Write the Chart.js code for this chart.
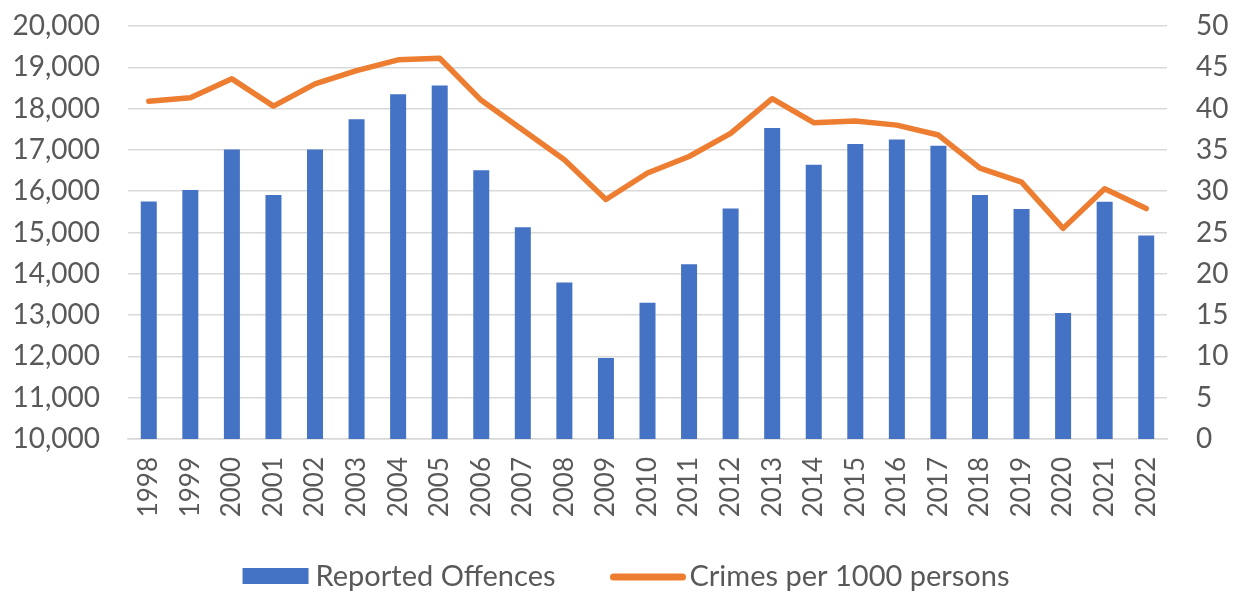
<!DOCTYPE html>
<html>
<head>
<meta charset="utf-8">
<script src="https://cdn.jsdelivr.net/npm/chart.js@4.4.1/dist/chart.umd.min.js"></script>
<style>
  html, body { margin: 0; padding: 0; background: #ffffff; }
  #wrap { width: 1239px; height: 592px; position: relative; }
</style>
</head>
<body>
<div id="wrap"><canvas id="c" width="1239" height="592"></canvas></div>
<script>
const years = ['1998','1999','2000','2001','2002','2003','2004','2005','2006','2007','2008','2009','2010','2011','2012','2013','2014','2015','2016','2017','2018','2019','2020','2021','2022'];
const reportedOffences = [15750, 16030, 17010, 15910, 17010, 17740, 18350, 18560, 16510, 15130, 13790, 11960, 13300, 14230, 15580, 17530, 16640, 17140, 17250, 17100, 15910, 15570, 13050, 15745, 14930];
const crimesPer1000 = [40.9, 41.3, 43.6, 40.3, 43.0, 44.6, 45.9, 46.1, 41.0, 37.4, 33.8, 29.0, 32.2, 34.2, 37.0, 41.2, 38.3, 38.5, 38.0, 36.8, 32.8, 31.1, 25.5, 30.3, 27.9];
const leftTicks = [10000, 11000, 12000, 13000, 14000, 15000, 16000, 17000, 18000, 19000, 20000];
const rightTicks = [0, 5, 10, 15, 20, 25, 30, 35, 40, 45, 50];

const FONT = 'Lato, "Open Sans", sans-serif';
const TEXT = '#595959';
const GRID = '#d9d9d9';
const BAR_COLOR = '#4472C4';
const LINE_COLOR = '#ED7D31';

// Custom bottom legend (box/line + text), drawn with the chart's canvas
const bottomLegend = {
  id: 'bottomLegend',
  afterDraw(chart) {
    const ctx = chart.ctx;
    const ds = chart.data.datasets;
    ctx.save();
    ctx.font = '29px ' + FONT;
    ctx.textBaseline = 'middle';
    ctx.textAlign = 'left';
    const y = 577;
    const boxW = 66, boxH = 16, lineW = 75, gapBoxText = 7, gapLineText = 4, gapItems = 55;
    const w1 = ctx.measureText(ds[0].label).width;
    const w2 = ctx.measureText(ds[1].label).width;
    const total = boxW + gapBoxText + w1 + gapItems + lineW + gapLineText + w2;
    let x = 626 - total / 2;
    ctx.fillStyle = ds[0].backgroundColor;
    ctx.fillRect(x, y - boxH / 2 - 1, boxW, boxH);
    x += boxW + gapBoxText;
    ctx.fillStyle = TEXT;
    ctx.fillText(ds[0].label, x, y);
    x += w1 + gapItems;
    ctx.strokeStyle = ds[1].borderColor;
    ctx.lineWidth = 7;
    ctx.lineCap = 'round';
    ctx.beginPath();
    ctx.moveTo(x + 3, y);
    ctx.lineTo(x + lineW - 3, y);
    ctx.stroke();
    x += lineW + gapLineText;
    ctx.fillText(ds[1].label, x, y);
    ctx.restore();
  }
};

new Chart(document.getElementById('c'), {
  type: 'bar',
  data: {
    labels: years,
    datasets: [
      {
        type: 'bar',
        label: 'Reported Offences',
        data: reportedOffences,
        backgroundColor: BAR_COLOR,
        borderWidth: 0,
        yAxisID: 'y',
        order: 1,
        categoryPercentage: 1.0,
        barPercentage: 0.385
      },
      {
        type: 'line',
        label: 'Crimes per 1000 persons',
        data: crimesPer1000,
        borderColor: LINE_COLOR,
        backgroundColor: LINE_COLOR,
        borderWidth: 5.5,
        pointRadius: 0,
        pointHoverRadius: 0,
        tension: 0,
        borderJoinStyle: 'round',
        borderCapStyle: 'round',
        yAxisID: 'y1',
        order: 0
      }
    ]
  },
  plugins: [bottomLegend],
  options: {
    responsive: false,
    animation: false,
    layout: { padding: { top: 26, left: 0, right: 0, bottom: 53 } },
    plugins: {
      tooltip: { enabled: false },
      legend: { display: false }
    },
    scales: {
      x: {
        grid: { display: false, drawTicks: false },
        border: { display: true, color: GRID, width: 1.5 },
        ticks: {
          color: TEXT,
          font: { family: FONT, size: 26 },
          minRotation: 90,
          maxRotation: 90,
          autoSkip: false,
          padding: 18
        },
        afterFit: (s) => { s.height = 100; }
      },
      y: {
        position: 'left',
        min: 10000,
        max: 20000,
        afterBuildTicks: (s) => { s.ticks = leftTicks.map(v => ({ value: v })); },
        grid: { color: GRID, lineWidth: 1.5, drawTicks: false },
        border: { display: false },
        ticks: {
          color: TEXT,
          font: { family: FONT, size: 28 },
          padding: 28,
          callback: (v) => v.toLocaleString('en-US')
        },
        afterFit: (s) => { s.width = 128; s.paddingTop = 0; s.paddingBottom = 0; }
      },
      y1: {
        position: 'right',
        min: 0,
        max: 50,
        afterBuildTicks: (s) => { s.ticks = rightTicks.map(v => ({ value: v })); },
        grid: { drawOnChartArea: false, drawTicks: false },
        border: { display: false },
        ticks: {
          color: TEXT,
          font: { family: FONT, size: 28 },
          padding: 29
        },
        afterFit: (s) => { s.width = 72; s.paddingTop = 0; s.paddingBottom = 0; }
      }
    }
  }
});
</script>
</body>
</html>
